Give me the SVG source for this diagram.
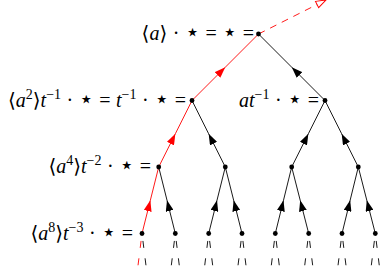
<svg xmlns="http://www.w3.org/2000/svg" width="380" height="268" viewBox="0 0 380 268">
<style>
.e{fill:none;stroke:#000;stroke-width:0.9}
.r{fill:none;stroke:#f00;stroke-width:0.9}
.st{stroke-dasharray:7 10.5;stroke-dashoffset:10}
.lb{font-family:"Liberation Serif","DejaVu Serif",serif;font-size:20px;fill:#000;text-anchor:end;word-spacing:0.5px}
.i{font-style:italic}
.s{font-size:14px}
.k{font-family:"DejaVu Sans",sans-serif;font-size:24px}
.n{fill:#000}
</style>
<defs>
<marker id="ak" markerUnits="userSpaceOnUse" viewBox="0 0 11 8" refX="11" refY="4" markerWidth="11" markerHeight="8" orient="auto"><path d="M0,0 L11,4 L0,8 z" fill="#000"/></marker>
<marker id="ar" markerUnits="userSpaceOnUse" viewBox="0 0 11 8" refX="11" refY="4" markerWidth="11" markerHeight="8" orient="auto"><path d="M0,0 L11,4 L0,8 z" fill="#f00"/></marker>
<marker id="ao" markerUnits="userSpaceOnUse" viewBox="-1 -1 13 10" refX="10" refY="3.5" markerWidth="13" markerHeight="10" orient="auto"><path d="M0,0 L10,3.5 L0,7 z" fill="#fff" stroke="#f00" stroke-width="1" stroke-dasharray="none"/></marker>
</defs>
<g id="connectors">
<path class="r" d="M258.5,34 L326,0" stroke-dasharray="7 6" marker-end="url(#ao)"/>
<path class="r" d="M192,100.5 L225.25,67.25 L258.5,34" marker-mid="url(#ar)"/>
<path class="e" d="M325,100.5 L291.75,67.25 L258.5,34" marker-mid="url(#ak)"/>
<path class="r" d="M158.7,167 L175.35,133.75 L192,100.5" marker-mid="url(#ar)"/>
<path class="e" d="M225.3,167 L208.65,133.75 L192,100.5" marker-mid="url(#ak)"/>
<path class="e" d="M291.7,167 L308.35,133.75 L325,100.5" marker-mid="url(#ak)"/>
<path class="e" d="M358.3,167 L341.65,133.75 L325,100.5" marker-mid="url(#ak)"/>
<path class="r" d="M142,233.5 L150.35,200.25 L158.7,167" marker-mid="url(#ar)"/>
<path class="e" d="M175.3,233.5 L167,200.25 L158.7,167" marker-mid="url(#ak)"/>
<path class="e" d="M208.7,233.5 L217,200.25 L225.3,167" marker-mid="url(#ak)"/>
<path class="e" d="M242,233.5 L233.65,200.25 L225.3,167" marker-mid="url(#ak)"/>
<path class="e" d="M275.3,233.5 L283.5,200.25 L291.7,167" marker-mid="url(#ak)"/>
<path class="e" d="M308.7,233.5 L300.2,200.25 L291.7,167" marker-mid="url(#ak)"/>
<path class="e" d="M342,233.5 L350.15,200.25 L358.3,167" marker-mid="url(#ak)"/>
<path class="e" d="M375.3,233.5 L366.8,200.25 L358.3,167" marker-mid="url(#ak)"/>
<path class="r st" d="M142,233.5 L137.7,268"/>
<path class="e st" d="M142,233.5 L146.3,268 M175.3,233.5 L171,268 M175.3,233.5 L179.6,268 M208.7,233.5 L204.4,268 M208.7,233.5 L213,268 M242,233.5 L237.7,268 M242,233.5 L246.3,268 M275.3,233.5 L271,268 M275.3,233.5 L279.6,268 M308.7,233.5 L304.4,268 M308.7,233.5 L313,268 M342,233.5 L337.7,268 M342,233.5 L346.3,268 M375.3,233.5 L371,268 M375.3,233.5 L379.6,268"/>
</g>
<g id="root"><circle class="n" cx="258.5" cy="34" r="2.4"/><text class="lb" x="254" y="40">⟨<tspan class="i">a</tspan>⟩ · <tspan class="k">⋆</tspan> = <tspan class="k">⋆</tspan> =</text></g>
<g id="n1"><circle class="n" cx="192" cy="100.5" r="2.4"/><text class="lb" x="186" y="106.5">⟨<tspan class="i">a</tspan><tspan class="s" dy="-8">2</tspan><tspan dy="8">⟩</tspan><tspan class="i">t</tspan><tspan class="s" dy="-8">−1</tspan><tspan dy="8"> · </tspan><tspan class="k">⋆</tspan> = <tspan class="i">t</tspan><tspan class="s" dy="-8">−1</tspan><tspan dy="8"> · </tspan><tspan class="k">⋆</tspan> =</text></g>
<g id="n2"><circle class="n" cx="325" cy="100.5" r="2.4"/><text class="lb" x="319" y="106.5"><tspan class="i">at</tspan><tspan class="s" dy="-8">−1</tspan><tspan dy="8"> · </tspan><tspan class="k">⋆</tspan> =</text></g>
<g id="n3"><circle class="n" cx="158.7" cy="167" r="2.4"/><text class="lb" x="151" y="173">⟨<tspan class="i">a</tspan><tspan class="s" dy="-8">4</tspan><tspan dy="8">⟩</tspan><tspan class="i">t</tspan><tspan class="s" dy="-8">−2</tspan><tspan dy="8"> · </tspan><tspan class="k">⋆</tspan> =</text></g>
<g id="n4"><circle class="n" cx="225.3" cy="167" r="2.4"/></g>
<g id="n5"><circle class="n" cx="291.7" cy="167" r="2.4"/></g>
<g id="n6"><circle class="n" cx="358.3" cy="167" r="2.4"/></g>
<g id="n7"><circle class="n" cx="142" cy="233.5" r="2.4"/><text class="lb" x="133" y="239.5">⟨<tspan class="i">a</tspan><tspan class="s" dy="-8">8</tspan><tspan dy="8">⟩</tspan><tspan class="i">t</tspan><tspan class="s" dy="-8">−3</tspan><tspan dy="8"> · </tspan><tspan class="k">⋆</tspan> =</text></g>
<g id="n8"><circle class="n" cx="175.3" cy="233.5" r="2.4"/></g>
<g id="n9"><circle class="n" cx="208.7" cy="233.5" r="2.4"/></g>
<g id="n10"><circle class="n" cx="242" cy="233.5" r="2.4"/></g>
<g id="n11"><circle class="n" cx="275.3" cy="233.5" r="2.4"/></g>
<g id="n12"><circle class="n" cx="308.7" cy="233.5" r="2.4"/></g>
<g id="n13"><circle class="n" cx="342" cy="233.5" r="2.4"/></g>
<g id="n14"><circle class="n" cx="375.3" cy="233.5" r="2.4"/></g>
</svg>
